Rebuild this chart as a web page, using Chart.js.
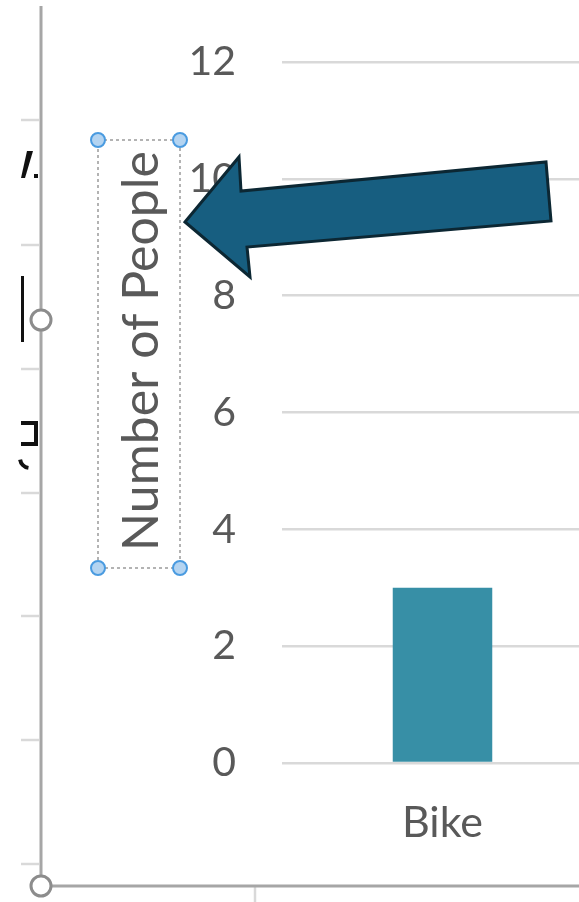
<!DOCTYPE html>
<html>
<head>
<meta charset="utf-8">
<script src="https://cdn.jsdelivr.net/npm/chart.js@4/dist/chart.umd.min.js"></script>
<style>
  html, body { margin: 0; padding: 0; background: #ffffff; overflow: hidden; width: 579px; height: 902px; }
  #wrap { position: absolute; left: 0; top: 0; width: 603px; height: 902px; }
</style>
</head>
<body>
<div id="wrap"><canvas id="c" width="603" height="902"></canvas></div>
<script>
// ---- data ----
const categories = ["Bike"];
const peopleCounts = [3];
const yTickValues = [0, 2, 4, 6, 8, 10, 12];
const axisTitleText = "Number of People";

const TEXT_COLOR = "#595959";
const FONT_FAMILY = "Lato, 'Open Sans', sans-serif";

// decoration plugin: the surrounding Excel canvas, the selected axis-title box and the arrow
const decor = {
  id: "decor",
  beforeDraw(chart) {
    const ctx = chart.ctx;
    ctx.save();
    ctx.strokeStyle = "#d9d9d9";
    ctx.lineWidth = 2.5;
    [120, 245, 369, 493, 616, 740, 864].forEach(y => {
      ctx.beginPath(); ctx.moveTo(21, y); ctx.lineTo(39, y); ctx.stroke();
    });
    ctx.beginPath(); ctx.moveTo(255, 887); ctx.lineTo(255, 902); ctx.stroke();
    // black clipped glyph fragments of a neighbouring text box
    ctx.fillStyle = "#111111";
    ctx.beginPath(); ctx.moveTo(27, 151); ctx.lineTo(33, 151); ctx.lineTo(25, 178); ctx.lineTo(21, 178); ctx.closePath(); ctx.fill();
    ctx.fillRect(34, 174, 4, 4);
    ctx.fillRect(21, 276, 3, 66);
    ctx.fillRect(21, 421, 17, 4);
    ctx.fillRect(21, 442, 17, 4);
    ctx.fillRect(34, 424, 4, 19);
    ctx.beginPath(); ctx.arc(30, 458, 10, Math.PI * 0.55, Math.PI * 0.95); ctx.lineWidth = 4; ctx.strokeStyle = "#111111"; ctx.stroke();
    // axis lines
    ctx.strokeStyle = "#a6a6a6";
    ctx.lineWidth = 3;
    ctx.beginPath(); ctx.moveTo(41, 6); ctx.lineTo(41, 886); ctx.lineTo(603, 886); ctx.stroke();
    [[41, 320], [41, 886]].forEach(([x, y]) => {
      ctx.beginPath(); ctx.arc(x, y, 10, 0, Math.PI * 2);
      ctx.fillStyle = "#ffffff"; ctx.fill();
      ctx.strokeStyle = "#8c8c8c"; ctx.lineWidth = 3; ctx.stroke();
    });
    ctx.restore();
  },
  afterDraw(chart) {
    const ctx = chart.ctx;
    ctx.save();
    // axis title (moved text box)
    ctx.translate(142, 351);
    ctx.rotate(-Math.PI / 2);
    ctx.fillStyle = TEXT_COLOR;
    ctx.font = "50px " + FONT_FAMILY;
    ctx.textAlign = "center";
    ctx.textBaseline = "middle";
    ctx.fillText(axisTitleText, 0, 0);
    ctx.restore();

    ctx.save();
    ctx.strokeStyle = "#9a9a9a";
    ctx.lineWidth = 1.5;
    ctx.setLineDash([3, 3]);
    ctx.strokeRect(98, 140, 82, 428);
    ctx.setLineDash([]);
    [[98, 140], [180, 140], [98, 568], [180, 568]].forEach(([x, y]) => {
      ctx.beginPath(); ctx.arc(x, y, 7, 0, Math.PI * 2);
      ctx.fillStyle = "#b4d4f1"; ctx.fill();
      ctx.strokeStyle = "#4a9be0"; ctx.lineWidth = 2; ctx.stroke();
    });
    // arrow
    ctx.beginPath();
    ctx.moveTo(185, 222);
    ctx.lineTo(239, 157);
    ctx.lineTo(241, 191);
    ctx.lineTo(546, 162);
    ctx.lineTo(551, 221);
    ctx.lineTo(247, 247);
    ctx.lineTo(250, 277);
    ctx.closePath();
    ctx.fillStyle = "#175e80";
    ctx.fill();
    ctx.lineJoin = "miter";
    ctx.strokeStyle = "#0c2733";
    ctx.lineWidth = 3;
    ctx.stroke();
    ctx.restore();
  }
};

new Chart(document.getElementById("c"), {
  type: "bar",
  data: {
    labels: categories,
    datasets: [{
      label: axisTitleText,
      data: peopleCounts,
      backgroundColor: "#378fa6",
      borderWidth: 0,
      barPercentage: 0.31,
      categoryPercentage: 1.0
    }]
  },
  options: {
    responsive: false,
    devicePixelRatio: 1,
    animation: false,
    layout: { padding: { top: 62, right: 0, bottom: 0, left: 0 } },
    plugins: { legend: { display: false }, tooltip: { enabled: false }, title: { display: false } },
    scales: {
      x: {
        grid: { display: false, drawTicks: false },
        border: { display: false },
        ticks: { color: TEXT_COLOR, font: { family: FONT_FAMILY, size: 43 }, padding: 34 },
        afterFit(scale) { scale.height = 139; }
      },
      y: {
        min: 0,
        max: 12,
        afterBuildTicks(scale) { scale.ticks = yTickValues.map(v => ({ value: v })); },
        grid: { color: "#d9d9d9", lineWidth: 2.5, drawTicks: false },
        border: { display: false },
        ticks: { color: TEXT_COLOR, font: { family: FONT_FAMILY, size: 41 }, padding: 46 },
        title: { display: false, text: axisTitleText },
        afterFit(scale) { scale.width = 282; scale.paddingTop = 0; scale.paddingBottom = 0; }
      }
    }
  },
  plugins: [decor]
});
</script>
</body>
</html>
